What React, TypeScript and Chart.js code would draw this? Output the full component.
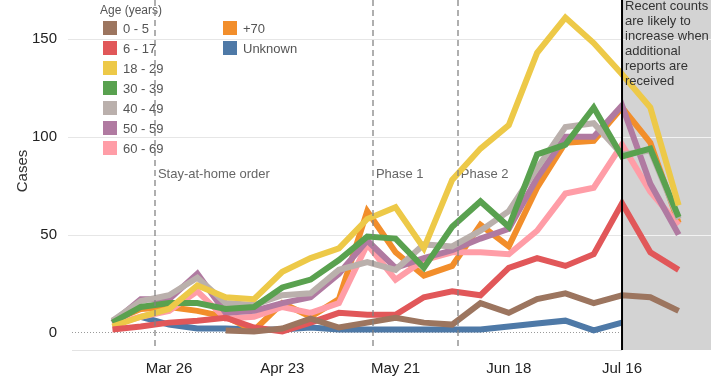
import React, { useEffect, useRef } from 'react';
import { Chart, registerables } from 'chart.js';

Chart.register(...registerables);

// Days since Mar 12 for each weekly point (Mar 12 ... Jul 30)
const weekDays = [0, 7, 14, 21, 28, 35, 42, 49, 56, 63, 70, 77, 84, 91, 98, 105, 112, 119, 126, 133, 140];
const tickDays = [14, 42, 70, 98, 126];
const tickLabels = ['Mar 26', 'Apr 23', 'May 21', 'Jun 18', 'Jul 16'];
const yTicks = [0, 50, 100, 150];

const seriesNames = ['0 - 5', '6 - 17', '18 - 29', '30 - 39', '40 - 49', '50 - 59', '60 - 69', '+70', 'Unknown'];
const seriesColors = ['#9c755f', '#e15759', '#edc948', '#59a14f', '#bab0ac', '#b07aa1', '#ff9da7', '#f28e2b', '#4e79a7'];

const age0to5 = [null, null, null, null, 1, 0.5, 2, 7, 2.5, 5, 7.5, 5, 4, 15, 10, 17, 20, 15, 19, 18, 11];
const age6to17 = [1.5, 3, 5, 6, 7.5, 2.5, 0.5, 5, 10, 9, 9, 18, 21, 19, 33, 38, 34, 40, 66, 41, 32];
const age18to29 = [3, 8, 12, 24, 18, 17, 31, 38, 43, 58, 64, 43, 78, 94, 106, 143, 161, 148, 132, 115, 65];
const age30to39 = [5, 13, 15, 15, 12, 13, 23, 27, 37, 49, 48, 33, 54, 67, 54, 91, 96, 115, 90, 94, 59];
const age40to49 = [6, 16, 19, 28, 15, 14, 19, 20, 32, 36, 32, 45, 44, 52, 62, 84, 105, 107, 91, 93, 58];
const age50to59 = [5, 17, 17, 30, 10, 11, 15, 18, 30, 47, 33, 38, 42, 48, 53, 79, 100, 100, 116, 76, 50];
const age60to69 = [4, 8, 11, 21, 7, 8, 13, 10, 15, 45, 27, 37, 41, 41, 40, 52, 71, 74, 96, 72, 55];
const age70plus = [6, 12, 13, 11, 8, 1, 15, 8, 17, 62, 41, 29, 34, 55, 44, 74, 97, 98, 115, 97, 56];
const ageUnknown = [null, 8, 4, 2, 2, 1.5, 1.5, 2.5, 1.5, 1.5, 1.5, 1.5, 1.5, 1.5, 3, 4.5, 6, 1, 5, null, null];

const seriesValues = [age0to5, age6to17, age18to29, age30to39, age40to49, age50to59, age60to69, age70plus, ageUnknown];

const eventDays = [10.5, 64.4, 85.4];
const eventLabels = ['Stay-at-home order', 'Phase 1', 'Phase 2'];
const cutoffDay = 126;
const noteLines = ['Recent counts', 'are likely to', 'increase when', 'additional', 'reports are', 'received'];
const legendTitle = 'Age (years)';
const yTitle = 'Cases';

const FONT = '"Liberation Sans", Arial, sans-serif';

const decorPlugin = {
  id: 'decor',
  beforeDatasetsDraw(chart: any) {
    const { ctx, chartArea: a, scales } = chart;
    const x = scales.x;
    const y = scales.y;
    const cx = x.getPixelForValue(cutoffDay);
    ctx.save();
    // shaded "recent" region
    ctx.fillStyle = '#d3d3d3';
    ctx.fillRect(cx, a.top, a.right - cx, a.bottom - a.top);
    // gridlines
    const line = (x1: number, y1: number, x2: number, y2: number) => {
      ctx.beginPath();
      ctx.moveTo(x1, y1);
      ctx.lineTo(x2, y2);
      ctx.stroke();
    };
    ctx.lineWidth = 1;
    for (const v of yTicks) {
      const py = Math.round(y.getPixelForValue(v)) + 0.5;
      if (v === 0) {
        ctx.strokeStyle = '#9a9a9a';
        ctx.setLineDash([1, 2]);
        line(a.left, py, cx, py);
        ctx.setLineDash([]);
      } else {
        ctx.strokeStyle = '#e6e6e6';
        line(a.left - 4, py, cx, py);
        ctx.strokeStyle = '#f2f2f2';
        line(cx, py, a.right, py);
      }
    }
    // bottom axis line
    ctx.strokeStyle = '#e3e3e3';
    line(a.left, Math.round(a.bottom) + 0.5, cx, Math.round(a.bottom) + 0.5);

    // event labels
    ctx.fillStyle = '#666666';
    ctx.font = `13px ${FONT}`;
    ctx.textBaseline = 'middle';
    ctx.textAlign = 'left';
    eventDays.forEach((d, i) => {
      const px = x.getPixelForValue(d);
      ctx.fillText(eventLabels[i], px + 3, 174);
    });

    // legend
    ctx.font = `12px ${FONT}`;
    ctx.fillStyle = '#555555';
    ctx.fillText(legendTitle, 100, 11);
    seriesNames.forEach((name, i) => {
      const col = i < 7 ? 0 : 1;
      const row = i < 7 ? i : i - 7;
      const sx = col === 0 ? 103 : 223;
      const cy = 28 + row * 20;
      ctx.fillStyle = seriesColors[i];
      ctx.fillRect(sx, cy - 7, 14, 14);
      ctx.fillStyle = '#555555';
      ctx.font = `13px ${FONT}`;
      ctx.fillText(name, sx + 20, cy + 1);
    });

    // y title
    ctx.save();
    ctx.translate(23, 171);
    ctx.rotate(-Math.PI / 2);
    ctx.textAlign = 'center';
    ctx.fillStyle = '#333333';
    ctx.font = `15px ${FONT}`;
    ctx.fillText(yTitle, 0, 0);
    ctx.restore();

    ctx.restore();
  },
  afterDatasetsDraw(chart: any) {
    const { ctx, chartArea: a, scales } = chart;
    const x = scales.x;
    const cx = x.getPixelForValue(cutoffDay);
    ctx.save();
    // dashed event lines
    ctx.strokeStyle = 'rgba(130,130,130,0.85)';
    ctx.lineWidth = 1.5;
    ctx.setLineDash([6, 4]);
    eventDays.forEach((d) => {
      const px = Math.round(x.getPixelForValue(d));
      ctx.beginPath();
      ctx.moveTo(px, a.top);
      ctx.lineTo(px, a.bottom);
      ctx.stroke();
    });
    ctx.setLineDash([]);
    // cutoff line
    ctx.strokeStyle = '#000000';
    ctx.lineWidth = 2;
    ctx.beginPath();
    ctx.moveTo(cx, a.top);
    ctx.lineTo(cx, a.bottom);
    ctx.stroke();
    // note text
    ctx.fillStyle = '#333333';
    ctx.font = `13px ${FONT}`;
    ctx.textAlign = 'left';
    ctx.textBaseline = 'middle';
    noteLines.forEach((t, i) => {
      ctx.fillText(t, cx + 3, 6 + i * 15);
    });
    ctx.restore();
  },
};

export default function App() {
  const canvasRef = useRef<HTMLCanvasElement | null>(null);

  useEffect(() => {
    document.body.style.margin = '0';
    const canvas = canvasRef.current;
    if (!canvas) return;
    const datasets = seriesNames.map((name, i) => ({
      label: name,
      data: weekDays
        .map((d, j) => ({ x: d, y: seriesValues[i][j] }))
        .filter((p) => p.y !== null),
      borderColor: seriesColors[i],
      backgroundColor: seriesColors[i],
      borderWidth: 6,
      pointRadius: 0,
      pointHoverRadius: 0,
      tension: 0,
      fill: false,
    }));

    const chart = new Chart(canvas, {
      type: 'line',
      data: { datasets },
      options: {
        animation: false,
        responsive: false,
        maintainAspectRatio: false,
        layout: { padding: { left: 0, right: 7, top: 0, bottom: 0 } },
        plugins: {
          legend: { display: false },
          tooltip: { enabled: false },
        },
        scales: {
          x: {
            type: 'linear',
            min: -10,
            max: 148,
            grid: { display: false },
            border: { display: false },
            afterBuildTicks: (scale: any) => {
              scale.ticks = tickDays.map((v) => ({ value: v }));
            },
            afterFit: (scale: any) => {
              scale.height = 28;
              scale.paddingLeft = 0;
              scale.paddingRight = 0;
              scale.paddingTop = 0;
              scale.paddingBottom = 0;
            },
            ticks: {
              autoSkip: false,
              maxRotation: 0,
              padding: 2,
              color: '#222222',
              font: { family: FONT, size: 15 },
              callback: (v: any) => {
                const idx = tickDays.indexOf(Number(v));
                return idx >= 0 ? tickLabels[idx] : '';
              },
            },
          },
          y: {
            type: 'linear',
            min: -9,
            max: 170,
            grid: { display: false },
            border: { display: false },
            afterBuildTicks: (scale: any) => {
              scale.ticks = yTicks.map((v) => ({ value: v }));
            },
            afterFit: (scale: any) => {
              scale.width = 72;
              scale.paddingLeft = 0;
              scale.paddingRight = 0;
              scale.paddingTop = 0;
              scale.paddingBottom = 0;
            },
            ticks: {
              padding: 7,
              color: '#222222',
              font: { family: FONT, size: 15 },
              callback: (v: any) => String(v),
            },
          },
        },
      },
      plugins: [decorPlugin],
    });
    return () => chart.destroy();
  }, []);

  return (
    <div style={{ width: 718, height: 378, position: 'relative' }}>
      <canvas ref={canvasRef} width={718} height={378} style={{ display: 'block' }} />
    </div>
  );
}
